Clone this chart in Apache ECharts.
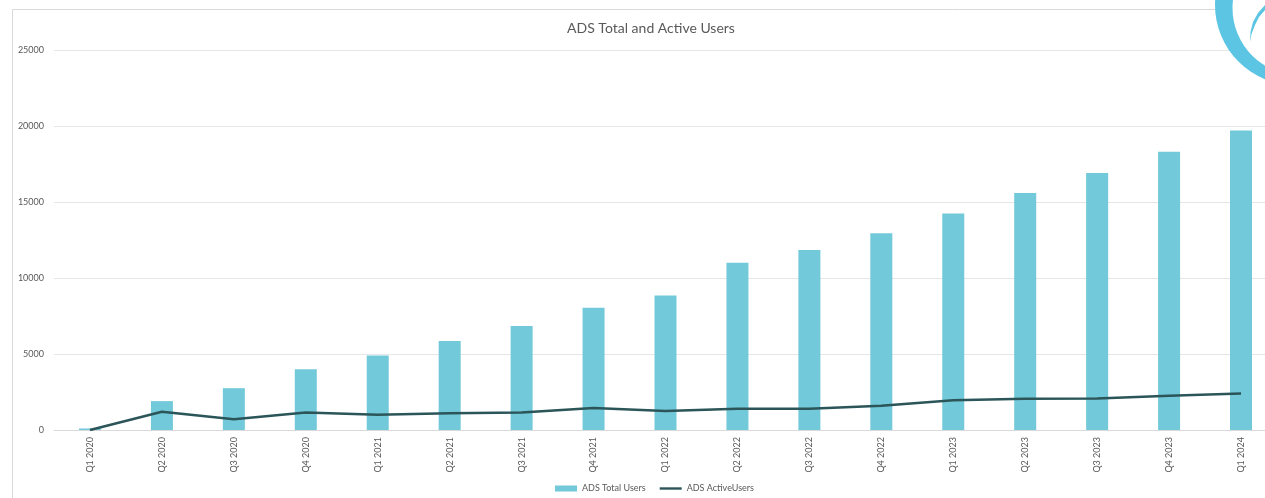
<!DOCTYPE html>
<html>
<head>
<meta charset="utf-8">
<script src="https://cdn.jsdelivr.net/npm/echarts@6/dist/echarts.min.js"></script>
<style>
  html, body { margin: 0; padding: 0; background: #fff; }
  #chart { width: 1265px; height: 498px; }
</style>
</head>
<body>
<div id="chart"></div>
<script>
var quarters = [
  "Q1 2020", "Q2 2020", "Q3 2020", "Q4 2020",
  "Q1 2021", "Q2 2021", "Q3 2021", "Q4 2021",
  "Q1 2022", "Q2 2022", "Q3 2022", "Q4 2022",
  "Q1 2023", "Q2 2023", "Q3 2023", "Q4 2023",
  "Q1 2024"
];
var totalUsers = [
  100, 1900, 2750, 4000,
  4900, 5850, 6850, 8050,
  8850, 11000, 11850, 12950,
  14250, 15600, 16900, 18300,
  19700
];
var activeUsers = [
  0, 1200, 700, 1150,
  1000, 1100, 1150, 1450,
  1250, 1400, 1400, 1600,
  1950, 2050, 2080, 2250,
  2400
];
var yTicks = { min: 0, max: 25000, interval: 5000 };

var textGrey = "#595959";
var font = "Lato";

var chart = echarts.init(document.getElementById("chart"));
var option = {
  animation: false,
  backgroundColor: "#fff",
  textStyle: { fontFamily: font },
  title: {
    text: "ADS Total and Active Users",
    left: 646,
    top: 16,
    textAlign: "center",
    textStyle: { color: textGrey, fontSize: 14, fontWeight: "normal", fontFamily: font }
  },
  legend: {
    left: 550,
    top: 479,
    itemWidth: 22,
    itemHeight: 6,
    itemGap: 14,
    textStyle: { color: textGrey, fontSize: 9, fontFamily: font },
    data: [
      { name: "ADS Total Users", icon: "rect" },
      // a thin band inside a 22x6 box, so the icon reads as a plain line
      { name: "ADS ActiveUsers", icon: "path://M0,0 M22,6 M0,1.8 L22,1.8 L22,4.2 L0,4.2 Z" }
    ]
  },
  // the plot runs past the right edge of the picture, as in the slide
  grid: { left: 54, width: 1223, top: 50, bottom: 68, outerBoundsMode: "none", containLabel: false },
  xAxis: {
    type: "category",
    data: quarters,
    axisLine: { lineStyle: { color: "#d9d9d9" } },
    axisTick: { show: false },
    axisLabel: { rotate: 90, color: textGrey, fontSize: 9, margin: 7, fontFamily: font }
  },
  yAxis: {
    type: "value",
    min: yTicks.min,
    max: yTicks.max,
    interval: yTicks.interval,
    axisLine: { show: false },
    axisTick: { show: false },
    axisLabel: {
      color: textGrey, fontSize: 9, margin: 10, fontFamily: font,
      formatter: function (v) { return String(v); }
    },
    splitLine: { lineStyle: { color: "#e6e6e6" } }
  },
  series: [
    {
      name: "ADS Total Users",
      type: "bar",
      data: totalUsers,
      barWidth: 22,
      itemStyle: { color: "#72c9d9" }
    },
    {
      name: "ADS ActiveUsers",
      type: "line",
      data: activeUsers,
      symbol: "none",
      lineStyle: { color: "#2b5558", width: 2.5 },
      itemStyle: { color: "#2b5558" }
    }
  ],
  graphic: [
    // outer frame of the slide chart
    {
      type: "rect",
      z: -1,
      shape: { x: 12.5, y: 9.5, width: 1300, height: 600 },
      style: { fill: "none", stroke: "#d9d9d9", lineWidth: 1 }
    },
    // logo crescent at the top right
    {
      type: "circle",
      z: 100,
      shape: { cx: 1295, cy: 5, r: 80 },
      style: { fill: "#5bc5e3" }
    },
    {
      type: "circle",
      z: 101,
      shape: { cx: 1300, cy: 8, r: 67.5 },
      style: { fill: "#fff" }
    },
    {
      type: "polygon",
      z: 102,
      shape: {
        points: [[1250, 42], [1250.5, 32], [1253, 22], [1258, 13], [1265, 5],
                 [1265, 10], [1259, 17], [1255, 25], [1251.5, 34]]
      },
      style: { fill: "#5bc5e3" }
    }
  ]
};
chart.setOption(option);
</script>
</body>
</html>
